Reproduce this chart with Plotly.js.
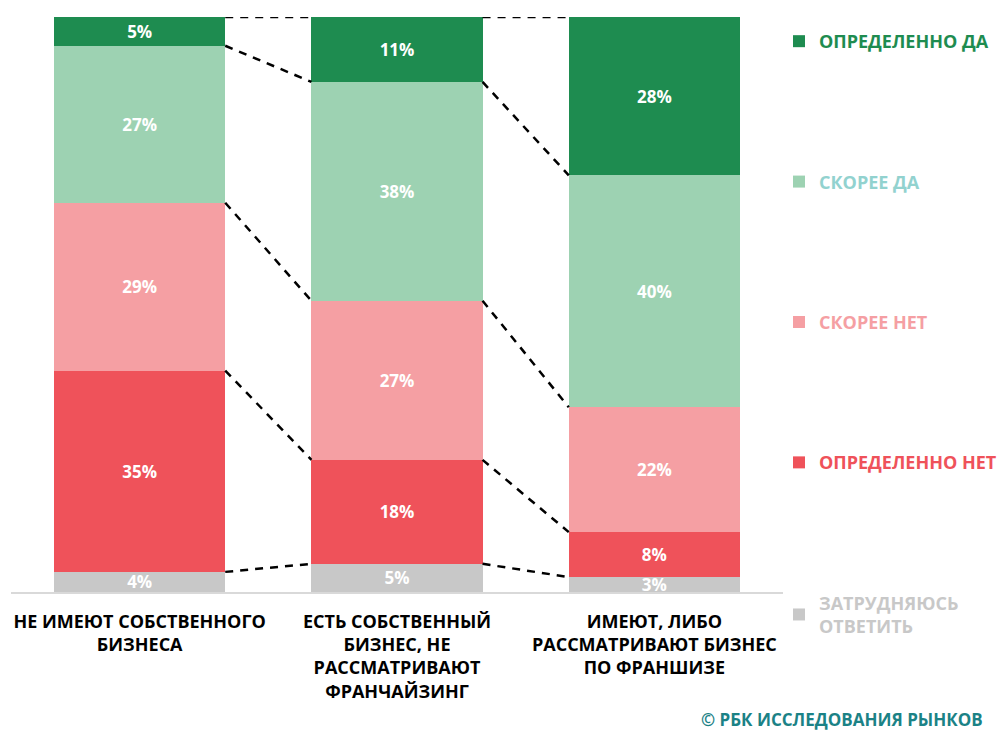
<!DOCTYPE html>
<html>
<head>
<meta charset="utf-8">
<script src="https://cdn.plot.ly/plotly-3.0.1.min.js"></script>
<style>html,body{margin:0;padding:0;background:#fff;}#chart{width:1000px;height:732px;}</style>
</head>
<body>
<div id="chart"></div>
<script>
// Categories (x-axis tick labels)
const categories = [
  "НЕ ИМЕЮТ СОБСТВЕННОГО<br>БИЗНЕСА",
  "ЕСТЬ СОБСТВЕННЫЙ<br>БИЗНЕС, НЕ<br>РАССМАТРИВАЮТ<br>ФРАНЧАЙЗИНГ",
  "ИМЕЮТ, ЛИБО<br>РАССМАТРИВАЮТ БИЗНЕС<br>ПО ФРАНШИЗЕ"
];
// Series values (share of respondents, %), stacked bottom to top
const hardToSay      = [3.5, 4.9, 2.6];
const definitelyNo   = [35.0, 18.1, 7.8];
const ratherNo       = [29.2, 27.7, 21.7];
const ratherYes      = [27.3, 38.1, 40.3];
const definitelyYes  = [5.0, 11.3, 27.5];
// Data labels as printed on the chart
const hardToSayLbl     = ["4%", "5%", "3%"];
const definitelyNoLbl  = ["35%", "18%", "8%"];
const ratherNoLbl      = ["29%", "27%", "22%"];
const ratherYesLbl     = ["27%", "38%", "40%"];
const definitelyYesLbl = ["5%", "11%", "28%"];
// Legend names
const seriesNames = ["ЗАТРУДНЯЮСЬ<br>ОТВЕТИТЬ", "ОПРЕДЕЛЕННО НЕТ", "СКОРЕЕ НЕТ", "СКОРЕЕ ДА", "ОПРЕДЕЛЕННО ДА"];

const FONT = "Open Sans, sans-serif";
const barColors = ["#c8c8c8", "#ef525a", "#f59fa3", "#9dd2b2", "#1e8c50"];
const legendTextColors = ["#c8c8c8", "#ef525a", "#f59fa3", "#92d2cf", "#1e8c50"];
const series = [hardToSay, definitelyNo, ratherNo, ratherYes, definitelyYes];
const labels = [hardToSayLbl, definitelyNoLbl, ratherNoLbl, ratherYesLbl, definitelyYesLbl];
const xs = categories.map((c, i) => i);
const bargap = 0.335;
const hw = (1 - bargap) / 2;

const traces = series.map((vals, k) => ({
  type: "bar",
  x: xs,
  y: vals,
  name: '<span style="color:' + legendTextColors[k] + '">' + seriesNames[k] + '</span>',
  legendgroup: "g" + k,
  legendrank: 10 - k,
  marker: {color: barColors[k], line: {width: 0}},
  text: labels[k],
  texttemplate: "%{text}",
  textposition: "inside",
  insidetextanchor: "middle",
  textfont: {family: FONT, size: 17, color: "#ffffff", weight: "bold"},
  hoverinfo: "skip"
}));

// dashed connector lines between stacked boundaries (normalized to 100%)
const totals = xs.map(i => series.reduce((s, v) => s + v[i], 0));
const cum = xs.map(i => {
  let acc = 0; const out = [];
  series.forEach(v => { acc += v[i]; out.push(acc / totals[i] * 100); });
  return out;
});
const lx = [], ly = [];
for (let i = 0; i < xs.length - 1; i++) {
  for (let k = 0; k < series.length; k++) {
    lx.push(xs[i] + hw, xs[i + 1] - hw, null);
    ly.push(cum[i][k], cum[i + 1][k], null);
  }
}
traces.push({
  type: "scatter", mode: "lines", x: lx, y: ly, showlegend: false, hoverinfo: "skip",
  line: {color: "#000000", width: 2.5, dash: "8px,7px"}
});

const layout = {
  width: 1000, height: 732,
  margin: {l: 11, r: 217, t: 17, b: 140, autoexpand: false},
  paper_bgcolor: "#ffffff", plot_bgcolor: "#ffffff",
  barmode: "stack", barnorm: "percent", bargap: bargap,
  font: {family: FONT, color: "#000000"},
  uniformtext: {mode: "show", minsize: 17},
  xaxis: {
    range: [-0.5, 2.5], tickvals: xs, ticktext: categories,
    showgrid: false, zeroline: false, showline: true, linecolor: "#d9d9d9", linewidth: 2,
    ticks: "", tickfont: {family: FONT, size: 18, color: "#000000", weight: "bold"},
    ticklabelstandoff: 12, fixedrange: true
  },
  yaxis: {range: [0, 100], visible: false, fixedrange: true},
  showlegend: true,
  legend: {
    x: 0.9948, xanchor: "left", y: 0.9896, yanchor: "top",
    traceorder: "grouped", tracegroupgap: 114, maxheight: 720,
    font: {family: FONT, size: 18, weight: "bold"},
    itemclick: false, itemdoubleclick: false, bgcolor: "rgba(0,0,0,0)"
  },
  annotations: [{
    xref: "paper", yref: "paper", x: 0.8925, y: -0.2209, xanchor: "left", yanchor: "middle",
    text: "© РБК ИССЛЕДОВАНИЯ РЫНКОВ", showarrow: false, borderpad: 0,
    font: {family: FONT, size: 17, color: "#1b8286", weight: "bold"}
  }]
};

Plotly.newPlot("chart", traces, layout, {displayModeBar: false, staticPlot: true});
</script>
</body>
</html>
